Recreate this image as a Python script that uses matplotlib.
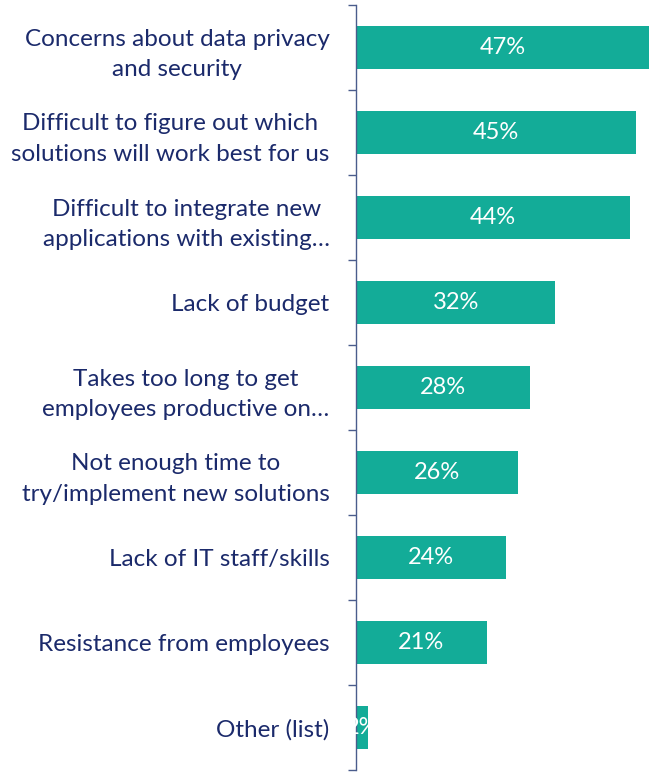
import matplotlib.pyplot as plt
import numpy as np

categories = [
    "Concerns about data privacy\nand security",
    "Difficult to figure out which\nsolutions will work best for us",
    "Difficult to integrate new\napplications with existing…",
    "Lack of budget",
    "Takes too long to get\nemployees productive on…",
    "Not enough time to\ntry/implement new solutions",
    "Lack of IT staff/skills",
    "Resistance from employees",
    "Other (list)",
]
values = [47, 45, 44, 32, 28, 26, 24, 21, 2]

bar_color = "#13ac98"
text_color = "#1b2a6b"
axis_color = "#4a5c8c"

plt.rcParams["font.family"] = ["Lato", "DejaVu Sans"]

fig = plt.figure(figsize=(6.52, 7.72), dpi=100)
ax = fig.add_axes([356 / 652, 2 / 772, 296 / 652, 765 / 772])

y = np.arange(len(categories))
bars = ax.barh(y, values, height=0.5, color=bar_color)
for b, v in zip(bars, values):
    ax.text(b.get_x() + b.get_width() / 2, b.get_y() + b.get_height() / 2,
            f"{v}%", ha="center", va="center", color="white", fontsize=17)

ax.set_ylim(len(categories) - 0.5, -0.5)
ax.set_xlim(0, 47.5)

ax.set_yticks(y)
ax.set_yticklabels(categories, fontsize=17.5, color=text_color)
for lbl in ax.get_yticklabels():
    lbl.set_multialignment("center")
    lbl.set_linespacing(1.55)
ax.tick_params(axis="y", which="major", length=0, pad=19)
ax.set_yticks(np.arange(-0.5, len(categories)), minor=True)
ax.tick_params(axis="y", which="minor", length=6, color=axis_color, width=1)

ax.set_xticks([])
for s in ["top", "right", "bottom"]:
    ax.spines[s].set_visible(False)
ax.spines["left"].set_color(axis_color)
ax.spines["left"].set_linewidth(1)

fig.savefig("out.png", dpi=100)
